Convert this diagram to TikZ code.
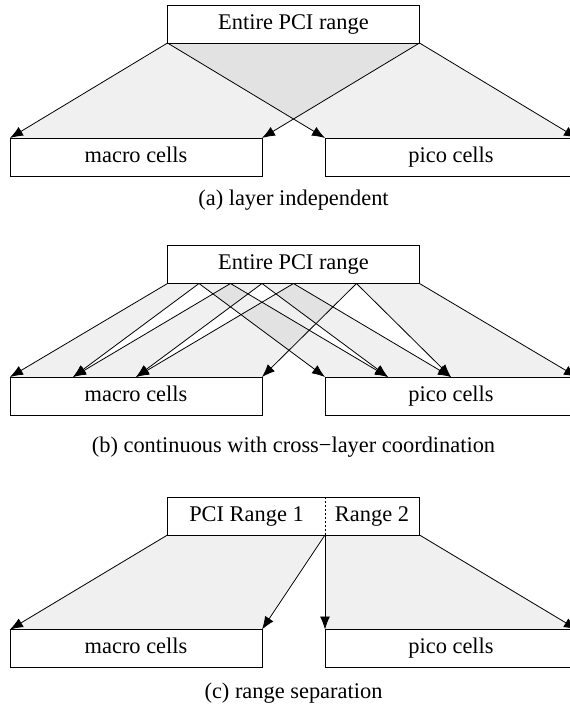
\documentclass[tikz,border=0pt]{standalone}
\usepackage{fontspec}
\setmainfont{Liberation Serif}
\usepackage{tikz}
\usetikzlibrary{calc,arrows.meta}

\tikzset{
  cellbox/.style={draw, thin, minimum width=126pt, minimum height=19pt,
    inner sep=0pt, outer sep=0pt, text height=7.6pt, text depth=2.4pt},
  rangefill/.style={fill=black, fill opacity=0.06},
  maparrow/.style={thin, -{Latex[length=6.5pt, width=5pt]}},
}

\begin{document}
\begin{tikzpicture}[x=0.5pt, y=-0.5pt, font=\fontsize{11.2}{13}\selectfont]
  \useasboundingbox (0,0) rectangle (569,708);

  % (a) layer independent
  \node[cellbox] (topA) at (293.5,24) {Entire PCI range};
  \node[cellbox] (macroA) at (136,157) {macro cells};
  \node[cellbox] (picoA) at (451,157) {pico cells};
  \node (capA) at (293.5,200) {(a) layer independent};
  \fill[rangefill] (topA.south west) -- (macroA.north west) -- (macroA.north east) -- (topA.south east) -- cycle;
  \fill[rangefill] (topA.south west) -- (picoA.north west) -- (picoA.north east) -- (topA.south east) -- cycle;
  \path[maparrow] (topA.south west) edge (macroA.north west)
                  (topA.south west) edge (picoA.north west)
                  (topA.south east) edge (macroA.north east)
                  (topA.south east) edge (picoA.north east);

  % (b) continuous with cross-layer coordination
  \node[cellbox] (topB) at (293.5,264.5) {Entire PCI range};
  \node[cellbox] (macroB) at (136,396) {macro cells};
  \node[cellbox] (picoB) at (451,396) {pico cells};
  \node (capB) at (293.5,447) {(b) continuous with cross−layer coordination};
  \foreach \k in {1,...,6}
    \coordinate (b\k) at ($(topB.south west)!\k/8!(topB.south east)$);
  \coordinate (mB1) at ($(macroB.north west)!0.25!(macroB.north east)$);
  \coordinate (mB2) at ($(macroB.north west)!0.5!(macroB.north east)$);
  \coordinate (pB1) at ($(picoB.north west)!0.25!(picoB.north east)$);
  \coordinate (pB2) at ($(picoB.north west)!0.5!(picoB.north east)$);
  \fill[rangefill] (topB.south west) -- (macroB.north west) -- (mB1) -- (b1) -- cycle;
  \fill[rangefill] (b2) -- (mB1) -- (mB2) -- (b3) -- cycle;
  \fill[rangefill] (b4) -- (mB2) -- (macroB.north east) -- (b6) -- cycle;
  \fill[rangefill] (b1) -- (picoB.north west) -- (pB1) -- (b2) -- cycle;
  \fill[rangefill] (b3) -- (pB1) -- (pB2) -- (b4) -- cycle;
  \fill[rangefill] (b6) -- (pB2) -- (picoB.north east) -- (topB.south east) -- cycle;
  \path[maparrow] (topB.south west) edge (macroB.north west)
                  (b1) edge (mB1)
                  (b2) edge (mB1)
                  (b3) edge (mB2)
                  (b4) edge (mB2)
                  (b6) edge (macroB.north east);
  \path[maparrow] (b1) edge (picoB.north west)
                  (b2) edge (pB1)
                  (b3) edge (pB1)
                  (b4) edge (pB2)
                  (b6) edge (pB2)
                  (topB.south east) edge (picoB.north east);

  % (c) range separation
  \node[cellbox] (topC) at (293.5,516) {};
  \node[text height=7.6pt, text depth=2.4pt] (rng1) at (246.5,516) {PCI Range 1};
  \node[text height=7.6pt, text depth=2.4pt] (rng2) at (372,516) {Range 2};
  \node[cellbox] (macroC) at (136,648.5) {macro cells};
  \node[cellbox] (picoC) at (451,648.5) {pico cells};
  \node (capC) at (293.5,693) {(c) range separation};
  \coordinate (cN) at ($(topC.north west)!0.625!(topC.north east)$);
  \coordinate (cS) at ($(topC.south west)!0.625!(topC.south east)$);
  \draw[thin, dash pattern=on 1pt off 1pt] (cN) -- (cS);
  \fill[rangefill] (topC.south west) -- (macroC.north west) -- (macroC.north east) -- (cS) -- cycle;
  \fill[rangefill] (cS) -- (picoC.north west) -- (picoC.north east) -- (topC.south east) -- cycle;
  \path[maparrow] (topC.south west) edge (macroC.north west)
                  (cS) edge (macroC.north east)
                  (cS) edge (picoC.north west)
                  (topC.south east) edge (picoC.north east);
\end{tikzpicture}
\end{document}
